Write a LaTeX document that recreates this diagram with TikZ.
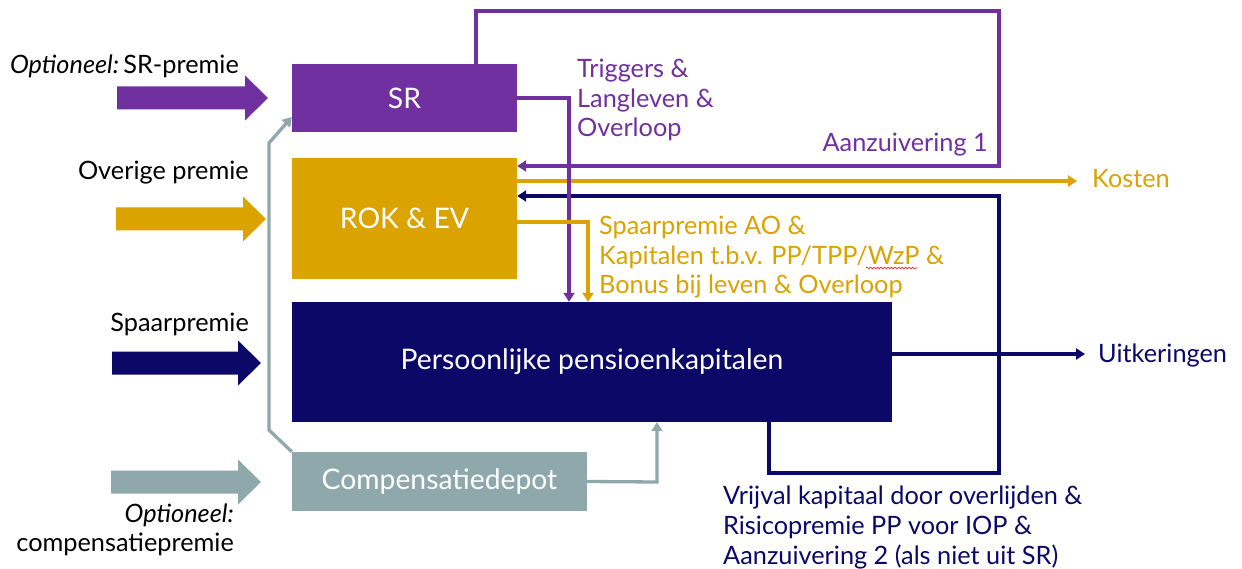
\documentclass[tikz,border=0pt]{standalone}
\usepackage{fontspec}
\setmainfont{Lato}
\usetikzlibrary{arrows.meta,decorations.pathmorphing}
\definecolor{cpurple}{HTML}{7030A0}
\definecolor{cgold}{HTML}{DAA300}
\definecolor{cnavy}{HTML}{0B0868}
\definecolor{cgrey}{HTML}{8FA8AC}
\newcommand\fatarr[4]{% start x, tip x, centre y, colour
  \fill[#4] (#1,#3-11.5) -- (#2-23,#3-11.5) -- (#2-23,#3-22.5) -- (#2,#3)
    -- (#2-23,#3+22.5) -- (#2-23,#3+11.5) -- (#1,#3+11.5) -- cycle;}
\begin{document}
\begin{tikzpicture}[x=1pt,y=-1pt,
  box/.style={rectangle, inner sep=0, text=white, font=\fontsize{28.3}{34}\selectfont},
  conn/.style={line width=3.3pt, -{Triangle[length=9pt,width=11pt]}},
  lbl/.style={inner sep=0, font=\fontsize{25.3}{29.7}\selectfont, align=left},
  side/.style={inner sep=0, font=\fontsize{25.3}{29}\selectfont, align=right, text=black},
]
\useasboundingbox (0,0) rectangle (1242,569);
\fill[white] (0,0) rectangle (1242,569);

% boxes
\node[box, fill=cpurple, minimum width=225pt, minimum height=68pt] (SR) at (404.5,98) {SR};
\node[box, fill=cgold, minimum width=225pt, minimum height=121pt] (ROK) at (404.5,218.5) {ROK \& EV};
\node[box, fill=cnavy, minimum width=600pt, minimum height=120pt] (PPK) at (592,362) {Persoonlijke pensioenkapitalen};
\node[box, fill=cgrey, minimum width=295pt, minimum height=59pt] (CD) at (439.5,481.5) {Compensatiedepot};

% fat input arrows
\fatarr{117}{268}{98}{cpurple}
\fatarr{116}{266}{219}{cgold}
\fatarr{112}{261}{363}{cnavy}
\fatarr{111}{261}{482}{cgrey}

% left labels
\node[side, anchor=base east] (l1) at (239,74) {\textit{Optioneel:}\,SR-premie};
\node[side, anchor=base east] (l2) at (249,180) {Overige premie};
\node[side, anchor=base east] (l3) at (249,331) {Spaarpremie};
\node[side, anchor=base east] (l4) at (234,551) {\textit{Optioneel:}\\compensatiepremie};

% right labels
\node[lbl, text=cgold, anchor=base west] (kosten) at (1092,188) {Kosten};
\node[lbl, text=cnavy, anchor=base west] (uitk) at (1098,362) {Uitkeringen};
\node[lbl, text=cpurple, anchor=base west] (trig) at (577,137) {Triggers \&\\Langleven \&\\Overloop};
\node[lbl, text=cpurple, anchor=base east] (aanz1) at (988,152) {Aanzuivering 1};
\node[lbl, text=cgold, anchor=base west] (spaar) at (599,294) {Spaarpremie AO \&\\Kapitalen t.b.v. PP/TPP/WzP \&\\Bonus bij leven \& Overloop};
\node[lbl, text=cnavy, anchor=base west] (vrij) at (723,564) {Vrijval kapitaal door overlijden \&\\Risicopremie PP voor IOP \&\\Aanzuivering 2 (als niet uit SR)};

% corner coordinates
\coordinate (p1) at (476,11);
\coordinate (p2) at (999,11);
\coordinate (p3) at (999,166);
\coordinate (sx) at (569,98);
\coordinate (gx) at (588,222);
\coordinate (kt) at (1077,181);
\coordinate (ut) at (1085,354);
\coordinate (n1) at (769,473);
\coordinate (n2) at (999,473);
\coordinate (n3) at (999,196);
\coordinate (g1) at (269,430);
\coordinate (g2) at (269,143);
\coordinate (g3) at (657,482);

% connectors
\draw[conn, cpurple] (SR.north -| p1) -- (p1) -- (p2) -- (p3) -- (ROK.east |- p3);
\draw[conn, cgold] (ROK.east |- kt) -- (kt);
\draw[conn, cnavy] ([xshift=177pt]PPK.south) -- (n1) -- (n2) -- (n3) -- (ROK.east |- n3);
\draw[conn, cnavy] (PPK.east |- ut) -- (ut);
\draw[conn, cpurple] (SR.east) -- (sx) -- (sx |- PPK.north);
\draw[conn, cgold] (ROK.east |- gx) -- (gx) -- (gx |- PPK.north);
\draw[conn, cgrey] (CD.north west) -- (g1) -- (g2) -- ([yshift=-19pt]SR.west);
\draw[conn, cgrey] (CD.east) -- (g3) -- (g3 |- PPK.south);

% spell-check underline under WzP
\draw[red, line width=0.6pt, decorate, decoration={snake, amplitude=0.9pt, segment length=3.5pt}] (866,268) -- (917,268);
\end{tikzpicture}
\end{document}
